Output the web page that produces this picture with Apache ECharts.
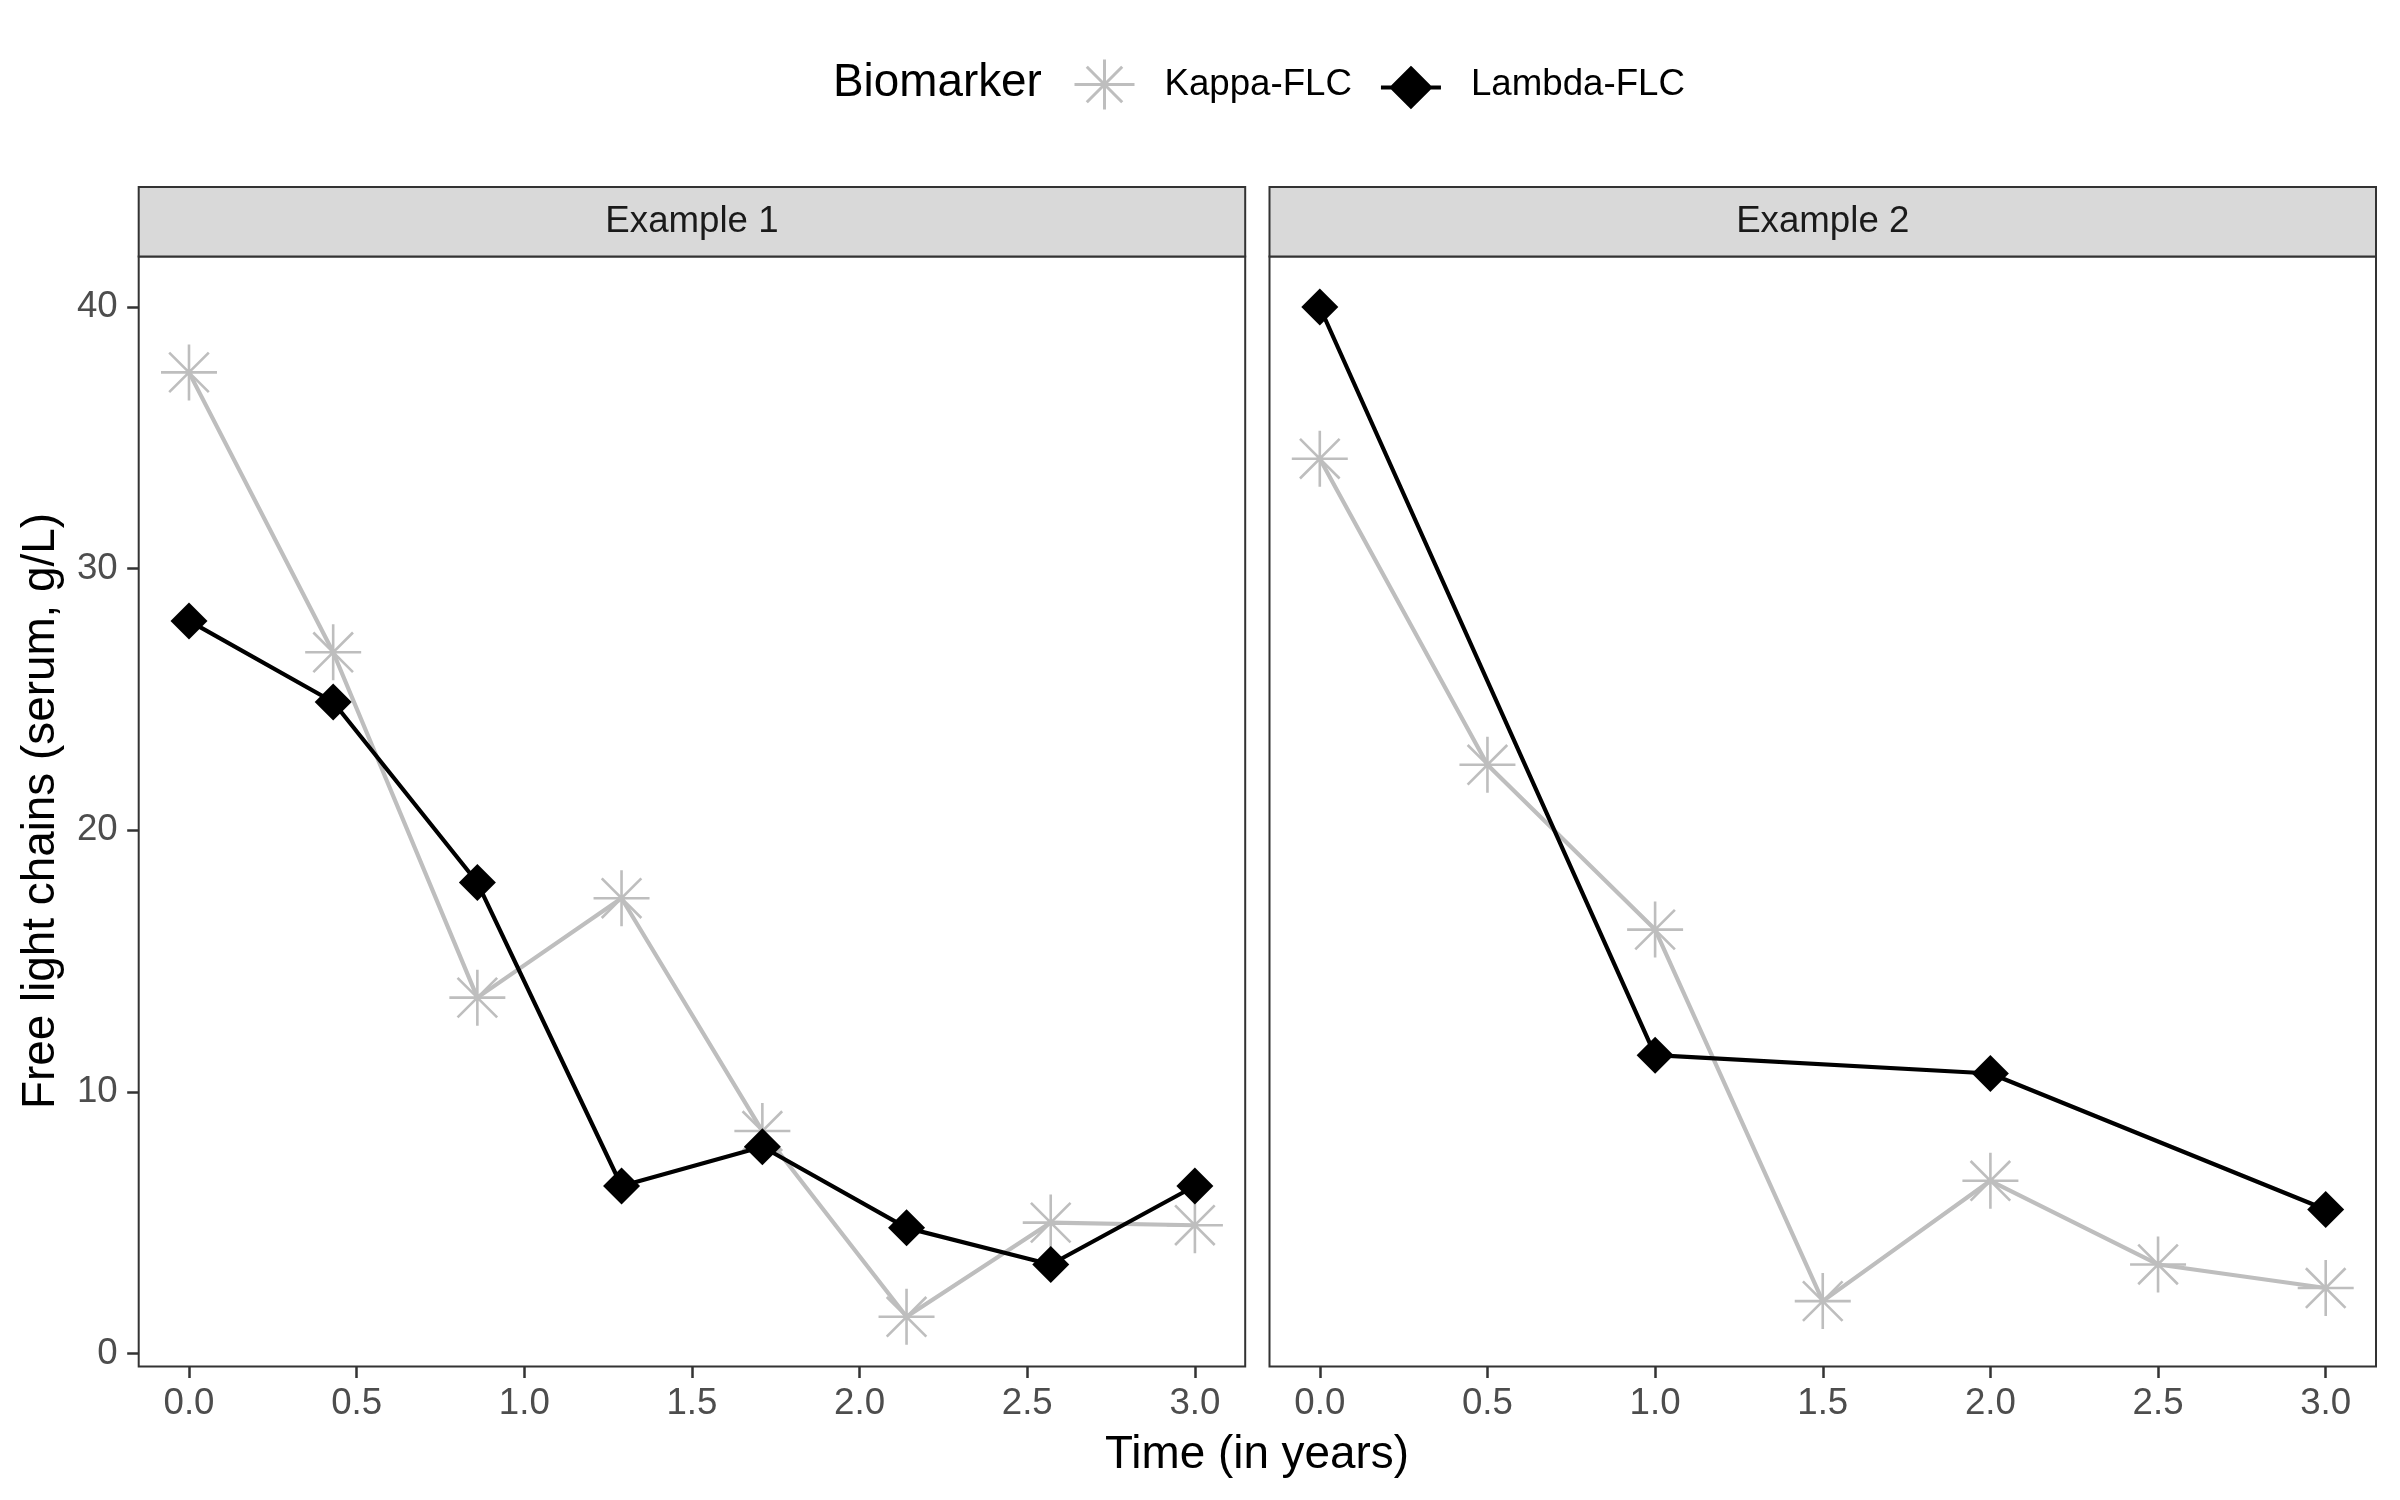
<!DOCTYPE html>
<html>
<head>
<meta charset="utf-8">
<script src="https://cdn.jsdelivr.net/npm/echarts@6/dist/echarts.min.js"></script>
<style>
html,body{margin:0;padding:0;background:#fff;}
#chart{width:2400px;height:1500px;}
</style>
</head>
<body>
<div id="chart"></div>
<script>
// ---- data ----
const panels = ['Example 1', 'Example 2'];
const seriesNames = ['Kappa-FLC', 'Lambda-FLC'];

const time1 = [0, 0.43, 0.86, 1.29, 1.71, 2.14, 2.57, 3.0];
const kappa1 = [37.5, 26.8, 13.6, 17.4, 8.5, 1.4, 5.0, 4.9];
const lambda1 = [28.0, 24.9, 18.0, 6.4, 7.9, 4.8, 3.4, 6.4];

const time2Kappa = [0, 0.5, 1.0, 1.5, 2.0, 2.5, 3.0];
const kappa2 = [34.2, 22.5, 16.2, 2.0, 6.6, 3.4, 2.5];
const time2Lambda = [0, 1.0, 2.0, 3.0];
const lambda2 = [40.0, 11.4, 10.7, 5.5];

const xTicks = [0, 0.5, 1.0, 1.5, 2.0, 2.5, 3.0];
const yTicks = [0, 10, 20, 30, 40];

const xTitle = 'Time (in years)';
const yTitle = 'Free light chains (serum, g/L)';
const legendTitle = 'Biomarker';

// ---- styling ----
const FONT = 'Liberation Sans';
const KAPPA_COLOR = '#BEBEBE';
const LAMBDA_COLOR = '#000000';
const ASTERISK = 'path://M0,-1L0,1M-1,0L1,0M-0.7071,-0.7071L0.7071,0.7071M-0.7071,0.7071L0.7071,-0.7071';

function pairs(xs, ys) { return xs.map((x, i) => [x, ys[i]]); }

const gridTop = 256.5, gridHeight = 1110, gridWidth = 1106.5;
const gridLefts = [138.7, 1269.5];

const grids = gridLefts.map(l => ({
  left: l, top: gridTop, width: gridWidth, height: gridHeight,
  show: true, borderColor: '#333333', borderWidth: 2, backgroundColor: '#ffffff'
}));

const xAxes = [0, 1].map(i => ({
  type: 'value', gridIndex: i, min: -0.15, max: 3.15,
  axisLine: { show: false, onZero: false },
  splitLine: { show: false },
  axisTick: { show: true, customValues: xTicks, length: 11.5, lineStyle: { color: '#333333', width: 2.5 } },
  axisLabel: {
    customValues: xTicks, margin: 19, color: '#4D4D4D',
    fontFamily: FONT, fontSize: 36.67,
    formatter: v => Number(v).toFixed(1)
  }
}));

const yAxes = [0, 1].map(i => ({
  type: 'value', gridIndex: i, min: -0.5, max: 41.93,
  axisLine: { show: false, onZero: false },
  splitLine: { show: false },
  axisTick: { show: i === 0, customValues: yTicks, length: 11.5, lineStyle: { color: '#333333', width: 2.5 } },
  axisLabel: {
    show: i === 0, customValues: yTicks, margin: 21, color: '#4D4D4D',
    fontFamily: FONT, fontSize: 36.67
  }
}));

function kappaSeries(idx, data) {
  return {
    name: seriesNames[0], type: 'line', xAxisIndex: idx, yAxisIndex: idx,
    data: data, symbol: ASTERISK, symbolSize: 56,
    lineStyle: { color: KAPPA_COLOR, width: 4.2 },
    itemStyle: { color: KAPPA_COLOR, borderColor: KAPPA_COLOR, borderWidth: 2.6 },
    z: 2, animation: false, emphasis: { disabled: true }
  };
}
function lambdaSeries(idx, data) {
  return {
    name: seriesNames[1], type: 'line', xAxisIndex: idx, yAxisIndex: idx,
    data: data, symbol: 'diamond', symbolSize: 37,
    lineStyle: { color: LAMBDA_COLOR, width: 4.2 },
    itemStyle: { color: LAMBDA_COLOR, borderWidth: 0 },
    z: 3, animation: false, emphasis: { disabled: true }
  };
}

const series = [
  kappaSeries(0, pairs(time1, kappa1)),
  lambdaSeries(0, pairs(time1, lambda1)),
  kappaSeries(1, pairs(time2Kappa, kappa2)),
  lambdaSeries(1, pairs(time2Lambda, lambda2))
];

const stripElements = [];
panels.forEach((p, i) => {
  stripElements.push({
    type: 'rect',
    shape: { x: gridLefts[i], y: 187, width: gridWidth, height: gridTop - 187 },
    style: { fill: '#D9D9D9', stroke: '#333333', lineWidth: 2 }
  });
  stripElements.push({
    type: 'text', x: gridLefts[i] + gridWidth / 2, y: (187 + gridTop) / 2,
    style: { text: p, fill: '#1A1A1A', font: '36.67px "' + FONT + '"',
      align: 'center', verticalAlign: 'middle', textAlign: 'center', textVerticalAlign: 'middle' }
  });
});

const option = {
  backgroundColor: '#ffffff',
  animation: false,
  grid: grids,
  xAxis: xAxes,
  yAxis: yAxes,
  legend: {
    left: 1073, top: 58, padding: 0, itemGap: 27,
    itemWidth: 60, itemHeight: 50,
    selectedMode: false,
    textStyle: { fontFamily: FONT, fontSize: 36.67, color: '#000000', padding: [0, 0, 0, 25] },
    data: [
      { name: seriesNames[0],
        icon: 'path://M0,25L60,25M30,0L30,50M12.3,7.3L47.7,42.7M12.3,42.7L47.7,7.3',
        itemStyle: { color: KAPPA_COLOR, borderColor: KAPPA_COLOR, borderWidth: 3 } },
      { name: seriesNames[1],
        icon: 'path://M30,0L30,0.001M0,25L60,25M30,6L49,25L30,44L11,25Z',
        itemStyle: { color: LAMBDA_COLOR, borderColor: LAMBDA_COLOR, borderWidth: 4 } }
    ]
  },
  graphic: stripElements.concat([
    { type: 'text', x: 833, y: 83,
      style: { text: legendTitle, fill: '#000000', font: '45.83px "' + FONT + '"',
        align: 'left', verticalAlign: 'middle', textAlign: 'left', textVerticalAlign: 'middle' } },
    { type: 'text', x: 1257, y: 1455,
      style: { text: xTitle, fill: '#000000', font: '45.83px "' + FONT + '"',
        align: 'center', verticalAlign: 'middle', textAlign: 'center', textVerticalAlign: 'middle' } },
    { type: 'text', x: 41, y: 811, rotation: Math.PI / 2,
      style: { text: yTitle, fill: '#000000', font: '45.83px "' + FONT + '"',
        align: 'center', verticalAlign: 'middle', textAlign: 'center', textVerticalAlign: 'middle' } }
  ]),
  series: series
};

const chart = echarts.init(document.getElementById('chart'), null, { renderer: 'canvas' });
chart.setOption(option);
</script>
</body>
</html>
